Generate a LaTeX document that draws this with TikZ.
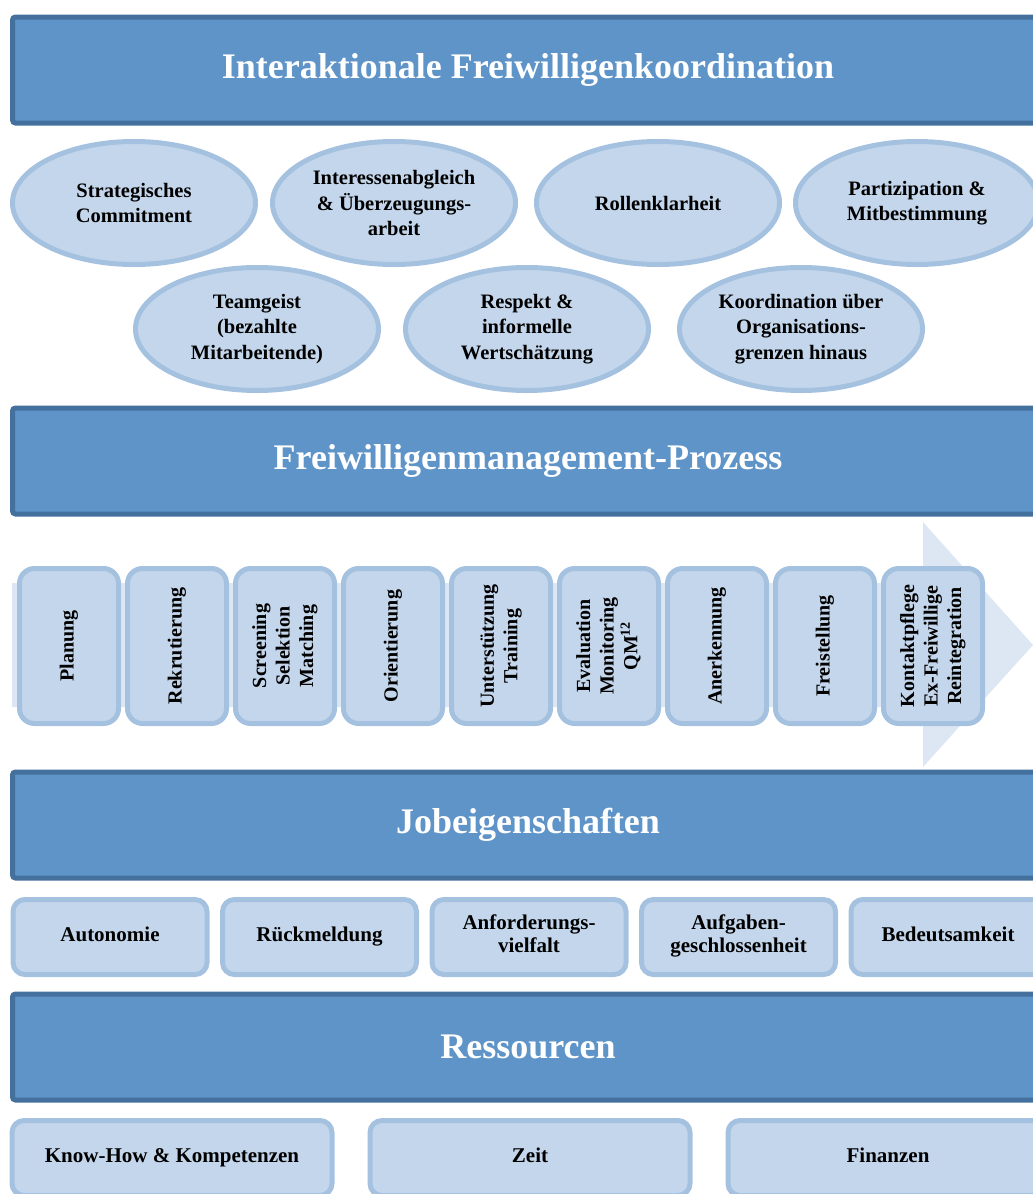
\documentclass[tikz,border=0pt]{standalone}
\usepackage{fontspec}
\setmainfont{Liberation Serif}
\usetikzlibrary{positioning, shapes.geometric}

\definecolor{barfill}{RGB}{95,148,200}
\definecolor{barline}{RGB}{68,112,158}
\definecolor{itemfill}{RGB}{196,214,235}
\definecolor{itemline}{RGB}{165,193,224}
\definecolor{flowfill}{RGB}{221,231,243}

\newcommand{\vtext}[1]{\rotatebox{90}{\begin{tabular}{@{}c@{}}#1\end{tabular}}}

\begin{document}
\begin{tikzpicture}[x=1pt, y=-1pt, node distance=4pt]
  \tikzstyle{bar}=[draw=barline, fill=barfill, line width=5pt, rounded corners=3pt, minimum width=1031pt, minimum height=106pt, text=white, font=\fontsize{36}{40}\selectfont\bfseries]
  \tikzstyle{oval}=[ellipse, draw=itemline, fill=itemfill, line width=5pt, minimum width=243pt, minimum height=123pt, inner sep=0pt, align=center, font=\fontsize{20.5}{25.5}\selectfont\bfseries]
  \tikzstyle{stage}=[draw=itemline, fill=itemfill, line width=5pt, rounded corners=15pt, minimum width=99pt, minimum height=155pt, inner sep=0pt, font=\fontsize{20}{23.5}\selectfont\bfseries]
  \tikzstyle{job}=[draw=itemline, fill=itemfill, line width=5pt, rounded corners=12pt, minimum width=194pt, minimum height=75pt, inner sep=0pt, align=center, font=\fontsize{21}{23}\selectfont\bfseries, execute at begin node=\strut, execute at end node=\strut]
  \tikzstyle{res}=[job, minimum width=320pt]

  \useasboundingbox (0,0) rectangle (1033,1194);
  \clip (0,0) rectangle (1033,1194);

  \node[bar] (koord) at (528,70) {Interaktionale Freiwilligenkoordination};

  \node[oval] (strat) at (134,203) {Strategisches\\Commitment};
  \node[oval] (inter) at (394,203) {Interessenabgleich\\\& Überzeugungs-\\arbeit};
  \node[oval] (rolle) at (658,203) {Rollenklarheit};
  \node[oval] (parti) at (917,203) {Partizipation \&\\Mitbestimmung};
  \node[oval] (team) at (257,329) {Teamgeist\\(bezahlte\\Mitarbeitende)};
  \node[oval] (resp) at (527,329) {Respekt \&\\informelle\\Wertschätzung};
  \node[oval] (grenz) at (801,329) {Koordination über\\Organisations-\\grenzen hinaus};

  \node[bar] (prozess) at (528,461) {Freiwilligenmanagement-Prozess};

  \fill[flowfill] (12,583) -- (923,583) -- (923,522) -- (1033,645) -- (923,767) -- (923,707) -- (12,707) -- cycle;

  \node[stage] (plan) at (69,646) {\vtext{Planung}};
  \node[stage, right=of plan] (rekr) {\vtext{Rekrutierung}};
  \node[stage, right=of rekr] (screen) {\vtext{Screening\\Selektion\\Matching}};
  \node[stage, right=of screen] (orient) {\vtext{Orientierung}};
  \node[stage, right=of orient] (train) {\vtext{Unterstützung\\Training}};
  \node[stage, right=of train] (eval) {\vtext{Evaluation\\Monitoring\\QM\textsuperscript{12}}};
  \node[stage, right=of eval] (anerk) {\vtext{Anerkennung}};
  \node[stage, right=of anerk] (frei) {\vtext{Freistellung}};
  \node[stage, right=of frei] (kontakt) {\vtext{Kontaktpflege\\Ex-Freiwillige\\Reintegration}};

  \node[bar] (jobs) at (528,825) {Jobeigenschaften};

  \node[job] (auto) at (110,937) {Autonomie};
  \node[job, right=10.5pt of auto] (rueck) {Rückmeldung};
  \node[job, right=10.5pt of rueck] (vielf) {Anforderungs-\\vielfalt};
  \node[job, right=10.5pt of vielf] (aufg) {Aufgaben-\\geschlossenheit};
  \node[job, right=10.5pt of aufg] (bedeut) {Bedeutsamkeit};

  \node[bar] (ress) at (528,1047) {Ressourcen};

  \node[res] (know) at (172,1158) {Know-How \& Kompetenzen};
  \node[res, right=33pt of know] (zeit) {Zeit};
  \node[res, right=33pt of zeit] (fin) {Finanzen};
\end{tikzpicture}
\end{document}
